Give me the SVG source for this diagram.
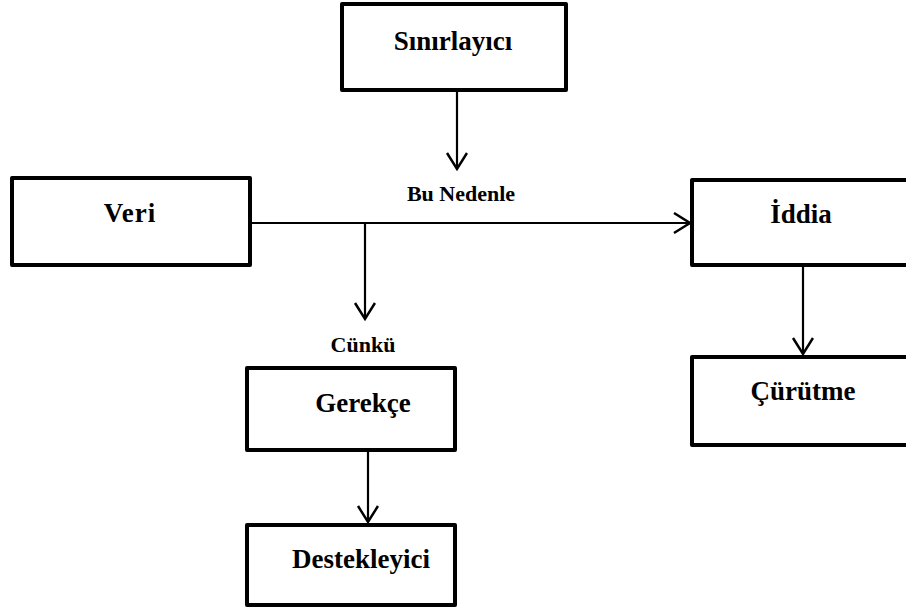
<svg xmlns="http://www.w3.org/2000/svg" width="906" height="612" viewBox="0 0 906 612">
<defs>
<marker id="arr" markerWidth="22" markerHeight="24" refX="17" refY="11" orient="auto" markerUnits="userSpaceOnUse">
<path d="M1,1 L17,11 L1,21" fill="none" stroke="#000" stroke-width="2.5"/>
</marker>
</defs>
<style>
.box{fill:#fff;stroke:#000;stroke-width:4;stroke-linejoin:round}
.lbl{font-family:"Liberation Serif",serif;font-weight:bold;font-size:27px;fill:#000;text-anchor:middle}
.small{font-family:"Liberation Serif",serif;font-weight:bold;font-size:22px;fill:#000;text-anchor:middle}
.ln{stroke:#000;stroke-width:2.2;fill:none}
</style>
<rect width="906" height="612" fill="#fff"/>
<g id="connectors">
<line class="ln" x1="457" y1="90" x2="457" y2="169" marker-end="url(#arr)"/>
<line class="ln" x1="250" y1="223" x2="690" y2="223" marker-end="url(#arr)"/>
<line class="ln" x1="365" y1="223" x2="365" y2="319" marker-end="url(#arr)"/>
<line class="ln" x1="803" y1="265" x2="803" y2="354" marker-end="url(#arr)"/>
<line class="ln" x1="368" y1="450" x2="368" y2="522" marker-end="url(#arr)"/>
<text class="small" x="461" y="201">Bu Nedenle</text>
<text class="small" x="363" y="352">Cünkü</text>
</g>
<g id="sinirlayici">
<rect class="box" x="342" y="4" width="224" height="86"/>
<text class="lbl" x="453" y="50">Sınırlayıcı</text>
</g>
<g id="veri">
<rect class="box" x="12" y="178" width="238" height="87"/>
<text class="lbl" x="130" y="222" letter-spacing="1">Veri</text>
</g>
<g id="iddia">
<rect class="box" x="692" y="180" width="220" height="85"/>
<text class="lbl" x="801" y="223">İddia</text>
</g>
<g id="curutme">
<rect class="box" x="692" y="357" width="220" height="88"/>
<text class="lbl" x="803" y="400">Çürütme</text>
</g>
<g id="gerekce">
<rect class="box" x="247" y="368" width="208" height="82"/>
<text class="lbl" x="363" y="412">Gerekçe</text>
</g>
<g id="destekleyici">
<rect class="box" x="247" y="525" width="208" height="80"/>
<text class="lbl" x="361" y="568">Destekleyici</text>
</g>
</svg>
